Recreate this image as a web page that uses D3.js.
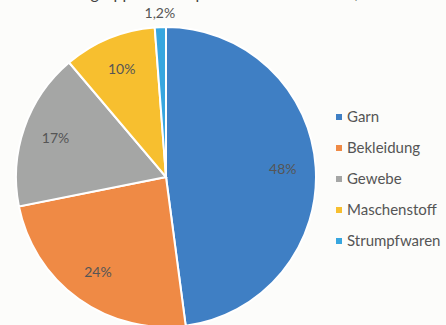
<!DOCTYPE html>
<html>
<head>
<meta charset="utf-8">
<script src="https://cdn.jsdelivr.net/npm/d3@7"></script>
<style>
body { margin: 0; background: #fcfcfa; }
svg { display: block; font-family: Lato, "Open Sans", sans-serif; }
</style>
</head>
<body>
<script>
// Warengruppen und Anteile (in %)
var categories = ["Garn", "Bekleidung", "Gewebe", "Maschenstoff", "Strumpfwaren"];
var values = [48, 24, 17, 10, 1.2];
var labels = ["48%", "24%", "17%", "10%", "1,2%"];
var colors = ["#3f7fc4", "#ef8a45", "#a5a6a5", "#f7bf2f", "#37a6df"];

var W = 446, H = 325;
var cx = 166, cy = 177, r = 150;

var svg = d3.select("body").append("svg")
  .attr("width", W)
  .attr("height", H);

// title, mostly cut off at the top edge (as in the source image)
svg.append("text")
  .attr("x", 223)
  .attr("y", -1)
  .attr("text-anchor", "middle")
  .attr("font-size", "16px")
  .attr("fill", "#404040")
  .text("Anteil der Warengruppen am Export der Textilindustrie, 2015 in Prozent");

var pie = d3.pie().sort(null).value(function(d) { return d; });
var arcs = pie(values);

var arc = d3.arc().innerRadius(0).outerRadius(r);
var labelArc = d3.arc().innerRadius(r * 0.78).outerRadius(r * 0.78);
var outerArc = d3.arc().innerRadius(r + 14).outerRadius(r + 14);

var g = svg.append("g").attr("transform", "translate(" + cx + "," + cy + ")");

g.selectAll("path")
  .data(arcs)
  .enter()
  .append("path")
  .attr("d", arc)
  .attr("fill", function(d, i) { return colors[i]; })
  .attr("stroke", "#fff")
  .attr("stroke-width", 2);

g.selectAll("text.lbl")
  .data(arcs)
  .enter()
  .append("text")
  .attr("class", "lbl")
  .attr("transform", function(d) {
    // small slices get their label outside the pie
    var small = (d.endAngle - d.startAngle) < 0.2;
    var p = small ? outerArc.centroid(d) : labelArc.centroid(d);
    return "translate(" + p[0] + "," + p[1] + ")";
  })
  .attr("dy", "0.35em")
  .attr("text-anchor", "middle")
  .attr("font-size", "14px")
  .attr("fill", "#555")
  .text(function(d, i) { return labels[i]; });

// legend
var legend = svg.append("g").attr("transform", "translate(336,117)");
var item = legend.selectAll("g")
  .data(categories)
  .enter()
  .append("g")
  .attr("transform", function(d, i) { return "translate(0," + i * 31 + ")"; });

item.append("rect")
  .attr("x", 0)
  .attr("y", -3)
  .attr("width", 6)
  .attr("height", 6)
  .attr("fill", function(d, i) { return colors[i]; });

item.append("text")
  .attr("x", 11)
  .attr("dy", "0.35em")
  .attr("font-size", "15px")
  .attr("fill", "#555")
  .text(function(d) { return d; });
</script>
</body>
</html>
